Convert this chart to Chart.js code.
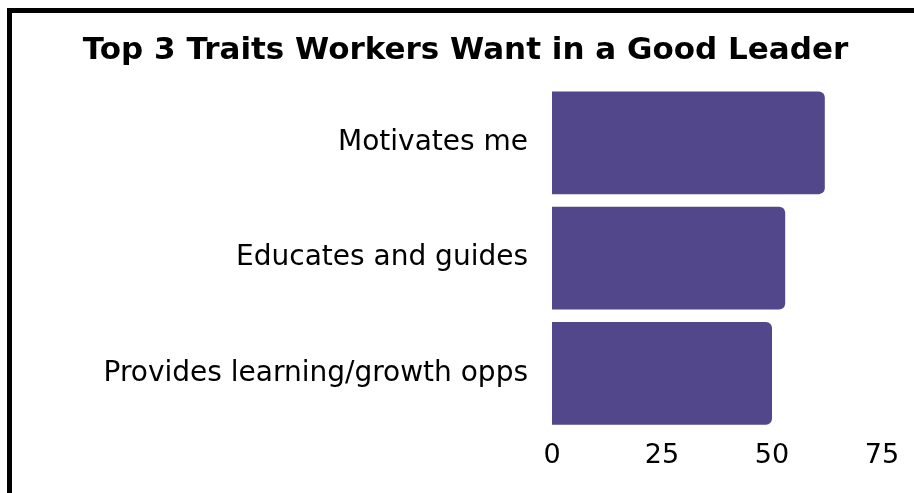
<!DOCTYPE html>
<html>
<head>
<meta charset="utf-8">
<script src="https://cdn.jsdelivr.net/npm/chart.js@4"></script>
<style>
  html, body { margin: 0; padding: 0; background: #fff; overflow: hidden; }
  #frame { position: absolute; left: 7px; top: 8px; width: 1000px; height: 600px; border: 5px solid #000; box-sizing: border-box; }
  #wrap { position: absolute; left: 0; top: 0; width: 914px; height: 493px; }
</style>
</head>
<body>
<div id="frame"></div>
<div id="wrap"><canvas id="myChart" width="914" height="493"></canvas></div>
<script>
const categories = ["Motivates me", "Educates and guides", "Provides learning/growth opps"];
const values = [62, 53, 50];
const tickValues = [0, 25, 50, 75];

const FONT = "'DejaVu Sans', sans-serif";

const data = {
  labels: categories,
  datasets: [
    {
      data: values,
      backgroundColor: "#51478a",
      borderRadius: 6,
      barPercentage: 0.89,
      categoryPercentage: 1,
    },
  ],
};

const config = {
  type: "bar",
  data: data,
  options: {
    indexAxis: "y",
    responsive: false,
    animation: false,
    layout: {
      padding: { left: 49, right: 32, top: 32, bottom: 22 },
    },
    plugins: {
      legend: { display: false },
      tooltip: { enabled: false },
      title: {
        display: true,
        text: "Top 3 Traits Workers Want in a Good Leader",
        color: "#000",
        font: { family: FONT, size: 31, weight: "bold", lineHeight: 1.2 },
        padding: { top: 0, bottom: 16 },
      },
    },
    scales: {
      x: {
        min: 0,
        max: 75,
        afterBuildTicks: function (scale) {
          scale.ticks = tickValues.map((v) => ({ value: v }));
        },
        afterFit: function (scale) {
          scale.height = 40;
        },
        grid: { display: false, drawTicks: false },
        border: { display: false },
        ticks: {
          color: "#000",
          padding: 9,
          font: { family: FONT, size: 27 },
        },
      },
      y: {
        afterFit: function (scale) {
          scale.width = 503;
        },
        grid: { display: false, drawTicks: false },
        border: { display: false },
        ticks: {
          color: "#000",
          padding: 24,
          font: { family: FONT, size: 28 },
        },
      },
    },
  },
};

const myChart = new Chart(document.getElementById("myChart"), config);
</script>
</body>
</html>
